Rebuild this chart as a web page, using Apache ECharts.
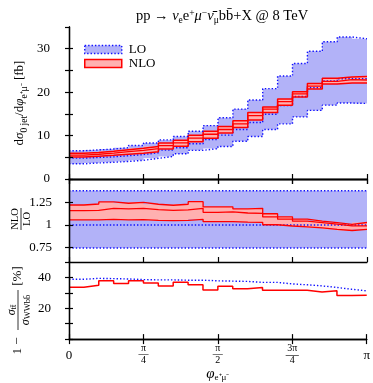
<!DOCTYPE html>
<html><head><meta charset="utf-8">
<script src="https://cdn.jsdelivr.net/npm/echarts@6/dist/echarts.min.js"></script>
<style>html,body{margin:0;padding:0;background:#fff}#c{width:373px;height:383px}</style>
</head><body><div id="c"></div>
<script>
// ---- data (20 bins in phi from 0 to pi) ----
const nBins = 20;
// top panel: dsigma/dphi [fb]
const loUpper   = [6.5,6.7,6.9,7.2,7.7,8.3,9.0,9.8,11.0,12.3,14.1,16.1,18.2,20.8,23.7,26.6,29.4,31.6,32.7,32.3];
const loCentral = [4.8,4.95,5.1,5.35,5.62,6.05,6.65,7.2,8.1,9.1,10.1,11.4,13.0,14.9,16.9,19.0,21.0,22.6,23.1,23.1];
const loLower   = [3.5,3.7,3.85,4.05,4.3,4.75,5.2,5.8,6.6,7.0,7.5,8.7,9.8,11.4,12.7,14.3,15.8,17.0,17.5,17.4];
const nloUpper  = [5.95,6.1,6.4,6.75,7.1,7.5,8.3,8.95,10.1,11.0,12.1,13.4,15.3,16.6,18.4,20.1,22.0,23.2,23.5,23.6];
const nloCentral= [5.5,5.7,5.95,6.3,6.6,7.0,7.7,8.3,9.4,10.3,11.4,12.7,14.6,16.1,17.8,19.6,21.4,22.5,22.9,22.8];
const nloLower  = [5.05,5.25,5.45,5.7,5.95,6.3,6.9,7.55,8.55,9.4,10.6,11.85,13.6,15.3,17.0,18.9,20.7,21.9,22.1,22.1];
// middle panel: NLO/LO
const ratioLoUpper   = [1.38,1.38,1.38,1.38,1.38,1.38,1.38,1.38,1.38,1.38,1.38,1.38,1.38,1.38,1.38,1.38,1.38,1.38,1.38,1.38];
const ratioLoCentral = [1,1,1,1,1,1,1,1,1,1,1,1,1,1,1,1,1,1,1,1];
const ratioLoLower   = [0.745,0.745,0.745,0.745,0.745,0.745,0.745,0.745,0.745,0.745,0.745,0.745,0.745,0.745,0.745,0.745,0.745,0.745,0.745,0.745];
const ratioNloUpper  = [1.222,1.233,1.256,1.241,1.252,1.230,1.219,1.230,1.259,1.200,1.202,1.178,1.185,1.125,1.091,1.065,1.044,1.026,1.007,1.028];
const ratioNloCentral= [1.159,1.163,1.185,1.178,1.185,1.170,1.163,1.167,1.185,1.141,1.146,1.133,1.128,1.090,1.065,1.042,1.026,1.009,0.991,0.991];
const ratioNloLower  = [1.056,1.056,1.063,1.056,1.059,1.052,1.048,1.052,1.063,1.037,1.037,1.033,1.030,1.003,0.989,0.980,0.969,0.952,0.939,0.952];
// bottom panel: 1 - sigma_tt/sigma_WWbb [%]
const fracNlo = [33.7,34.9,37.8,36.0,37.8,36.4,34.5,36.8,35.2,31.9,34.3,32.7,33.5,31.7,31.7,31.7,30.5,31.3,28.3,28.5];
const fracLo  = [38.8,39.4,39.2,39.0,38.6,38.4,38.4,38.2,38.2,37.8,37.6,37.4,36.8,36.8,35.8,35.2,34.5,33.5,32.3,31.3];
// x ticks
const xTickValues = [0, Math.PI/4, Math.PI/2, 3*Math.PI/4, Math.PI];
const xTickLabels = ['0','π/4','π/2','3π/4','π'];
const legendNames = ['LO','NLO'];

const edges = [];
for (let i = 0; i <= nBins; i++) edges.push(i * Math.PI / nBins);

const FONT = 'Liberation Serif';
const BLUE = '#1010ff', BLUEFILL = '#b2b2f8', RED = '#ff0000', REDFILL = '#ffb0b0';

function stepData(vals){ const d = vals.map((v,i)=>[edges[i], v]); d.push([edges[nBins], vals[nBins-1]]); return d; }
function stepLine(name, vals, g, color, width, dotted, z){
  return {type:'line', name, xAxisIndex:2*g, yAxisIndex:2*g, data:stepData(vals), step:'end',
    showSymbol:false, symbol:'none', silent:true, animation:false, z,
    lineStyle:{color, width, type: dotted ? [1.4,2] : 'solid'}};
}
function band(name, lower, upper, g, color, z){
  return {type:'custom', name, xAxisIndex:2*g, yAxisIndex:2*g, silent:true, animation:false, z,
    data:[[edges[0], lower[0]]],
    renderItem:(params, api)=>{
      const pts = [];
      for (let i=0;i<nBins;i++){ pts.push(api.coord([edges[i], upper[i]])); pts.push(api.coord([edges[i+1], upper[i]])); }
      for (let i=nBins-1;i>=0;i--){ pts.push(api.coord([edges[i+1], lower[i]])); pts.push(api.coord([edges[i], lower[i]])); }
      return {type:'polygon', shape:{points:pts}, style:{fill:color}};
    }};
}

const grids = [
  {left:69, right:6, top:27, height:152},
  {left:69, right:6, top:179, height:83},
  {left:69, right:6, top:262, height:82.5}
];
const axisLineStyle = {show:true, lineStyle:{color:'#000', width:1.3}};
function xLabelFmt(v){
  const i = xTickValues.findIndex(t=>Math.abs(t-v)<1e-6);
  if (i<0) return '';
  const lab = xTickLabels[i];
  if (lab.indexOf('/')<0) return '{b|'+lab+'}';
  const p = lab.split('/');
  return '{f|'+p[0]+'}\n{'+(p[0].length>1?'lw':'l')+'|—}\n{f|'+p[1]+'}';
}
const xAxes = [], yAxes = [];
for (let g=0; g<3; g++){
  ['bottom','top'].forEach(pos=>{
    const a = {gridIndex:g, type:'value', min:0, max:Math.PI, position:pos, z:10,
      axisLine:axisLineStyle, splitLine:{show:false},
      axisTick:{show:true, inside:true, length:5, customValues:xTickValues, lineStyle:{color:'#000', width:1.2}},
      axisLabel:{show:false}};
    if (g===2 && pos==='bottom'){
      a.axisLabel = {show:true, customValues:xTickValues, margin:5, formatter:xLabelFmt, color:'#000',
        rich:{b:{fontFamily:FONT, fontSize:13, lineHeight:22, color:'#000'},
              f:{fontFamily:FONT, fontSize:10, lineHeight:9, color:'#000', align:'center'},
              l:{fontFamily:FONT, fontSize:10, lineHeight:3, color:'#000', align:'center'},
              lw:{fontFamily:FONT, fontSize:13, lineHeight:3, color:'#000', align:'center'}}};
      a.name = '{m|φ}{s|e⁺μ⁻}';
      a.nameLocation = 'middle';
      a.nameGap = 25;
      a.nameTextStyle = {rich:{m:{fontFamily:FONT, fontSize:15, fontStyle:'italic', lineHeight:16, color:'#000'},
                               s:{fontFamily:FONT, fontSize:9, lineHeight:16, verticalAlign:'bottom', color:'#000'}}};
    }
    xAxes.push(a);
  });
}
const yCfg = [
  {min:0, max:35, interval:5, fmt:v=> (v%10===0 ? String(v) : ''), margin:19, hideMax:true},
  {min:0.59, max:1.51, custom:[0.75,1,1.25], fmt:v=> String(v), margin:17, hideMax:false},
  {min:0, max:50, interval:10, fmt:v=> ((v===20||v===40) ? String(v) : ''), margin:18, hideMax:true}
];
for (let g=0; g<3; g++){
  const c = yCfg[g];
  ['left','right'].forEach(pos=>{
    const a = {gridIndex:g, type:'value', min:c.min, max:c.max, position:pos, z:10,
      axisLine:axisLineStyle, splitLine:{show:false},
      axisTick:{show:true, inside:true, length:4, lineStyle:{color:'#000', width:1.2}},
      axisLabel:{show: pos==='left', showMaxLabel:!c.hideMax, formatter:c.fmt, margin:c.margin,
        fontFamily:FONT, fontSize:13, color:'#000'}};
    if (c.interval) a.interval = c.interval;
    if (c.custom){ a.axisTick.customValues = c.custom; a.axisLabel.customValues = c.custom; }
    yAxes.push(a);
  });
}

const series = [
  band('LO', loLower, loUpper, 0, BLUEFILL, 1),
  band('NLO', nloLower, nloUpper, 0, REDFILL, 2),
  stepLine('LO', loCentral, 0, BLUE, 1.4, true, 2.5),
  stepLine('NLO', nloUpper, 0, RED, 1.5, false, 3),
  stepLine('NLO', nloLower, 0, RED, 1.5, false, 3),
  stepLine('NLO', nloCentral, 0, RED, 1.3, false, 3),
  stepLine('LO', loUpper, 0, BLUE, 1.4, true, 4),
  stepLine('LO', loLower, 0, BLUE, 1.4, true, 4),

  band('LO r', ratioLoLower, ratioLoUpper, 1, BLUEFILL, 1),
  band('NLO r', ratioNloLower, ratioNloUpper, 1, REDFILL, 2),
  stepLine('LO r', ratioLoCentral, 1, BLUE, 1.4, true, 2.5),
  stepLine('NLO r', ratioNloUpper, 1, RED, 1.3, false, 3),
  stepLine('NLO r', ratioNloLower, 1, RED, 1.3, false, 3),
  stepLine('NLO r', ratioNloCentral, 1, RED, 1.3, false, 3),
  stepLine('LO r', ratioLoUpper, 1, BLUE, 1.4, true, 4),
  stepLine('LO r', ratioLoLower, 1, BLUE, 1.4, true, 4),

  stepLine('NLO f', fracNlo, 2, RED, 1.5, false, 3),
  stepLine('LO f', fracLo, 2, BLUE, 1.4, true, 4)
];

const subRich = {
  m:{fontFamily:FONT, fontSize:13, lineHeight:18, color:'#000'},
  g:{fontFamily:FONT, fontSize:13, fontStyle:'italic', lineHeight:18, color:'#000'},
  s:{fontFamily:FONT, fontSize:9.5, lineHeight:18, verticalAlign:'bottom', color:'#000'}
};

const option = {
  animation:false,
  backgroundColor:'#fff',
  grid: grids,
  xAxis: xAxes,
  yAxis: yAxes,
  legend: {left:84, top:43, orient:'vertical', padding:0, itemGap:1, itemWidth:37, itemHeight:8,
    selectedMode:false, textStyle:{fontFamily:FONT, fontSize:13, color:'#000', padding:[0,0,0,2]},
    data:[
      {name:legendNames[0], icon:'rect', itemStyle:{color:BLUEFILL, borderColor:BLUE, borderWidth:1.4, borderType:[1.4,2]}},
      {name:legendNames[1], icon:'rect', itemStyle:{color:REDFILL, borderColor:RED, borderWidth:1.5}}
    ]},
  title: {text:'{m|pp → }{g|ν}{s|e}{m|e}{p|+}{g|μ}{p|−}{g|ν\u0304}{s|μ}{m|bb\u0304+X @ 8 TeV}',
    left:217, top:3, textAlign:'center', textStyle:{fontWeight:'normal', rich:{
      m:{fontFamily:FONT, fontSize:14.5, fontWeight:'normal', lineHeight:17, color:'#000'},
      g:{fontFamily:FONT, fontSize:14.5, fontStyle:'italic', fontWeight:'normal', lineHeight:17, color:'#000'},
      s:{fontFamily:FONT, fontSize:9.5, fontWeight:'normal', lineHeight:17, verticalAlign:'bottom', color:'#000'},
      p:{fontFamily:FONT, fontSize:9.5, fontWeight:'normal', lineHeight:17, verticalAlign:'top', color:'#000'}}}},
  graphic: [
    {type:'text', x:20, y:103, rotation:Math.PI/2, silent:true,
      style:{text:'{m|d}{g|σ}{s|0 jet}{m|/d}{g|φ}{s|e⁺μ⁻}{m| [fb]}', rich:subRich, align:'center', verticalAlign:'middle'}},
    {type:'group', x:21, y:219, rotation:Math.PI/2, silent:true, children:[
      {type:'text', x:0, y:-5.5, style:{text:'NLO', font:'10.5px "Liberation Serif"', fill:'#000', align:'center', verticalAlign:'middle'}},
      {type:'line', shape:{x1:-11, y1:0, x2:11, y2:0}, style:{stroke:'#000', lineWidth:0.8}},
      {type:'text', x:0, y:6, style:{text:'LO', font:'10.5px "Liberation Serif"', fill:'#000', align:'center', verticalAlign:'middle'}}
    ]},
    {type:'group', x:18, y:306, rotation:Math.PI/2, silent:true, children:[
      {type:'text', x:-40, y:0, style:{text:'1 −', font:'13px "Liberation Serif"', fill:'#000', align:'center', verticalAlign:'middle'}},
      {type:'text', x:-4, y:-6.5, style:{text:'{a|σ}{b|tt\u0304}', rich:{a:{fontFamily:FONT, fontSize:12, fontStyle:'italic', lineHeight:13, color:'#000'}, b:{fontFamily:FONT, fontSize:8.5, lineHeight:13, verticalAlign:'bottom', color:'#000'}}, align:'center', verticalAlign:'middle'}},
      {type:'line', shape:{x1:-24, y1:0, x2:16, y2:0}, style:{stroke:'#000', lineWidth:0.8}},
      {type:'text', x:-4, y:7.5, style:{text:'{a|σ}{b|WWbb\u0304}', rich:{a:{fontFamily:FONT, fontSize:12, fontStyle:'italic', lineHeight:13, color:'#000'}, b:{fontFamily:FONT, fontSize:8.5, lineHeight:13, verticalAlign:'bottom', color:'#000'}}, align:'center', verticalAlign:'middle'}},
      {type:'text', x:30, y:0, style:{text:'[%]', font:'13px "Liberation Serif"', fill:'#000', align:'center', verticalAlign:'middle'}}
    ]}
  ],
  series: series
};
const chart = echarts.init(document.getElementById('c'), null, {renderer:'canvas'});
chart.setOption(option);
</script>
</body></html>
